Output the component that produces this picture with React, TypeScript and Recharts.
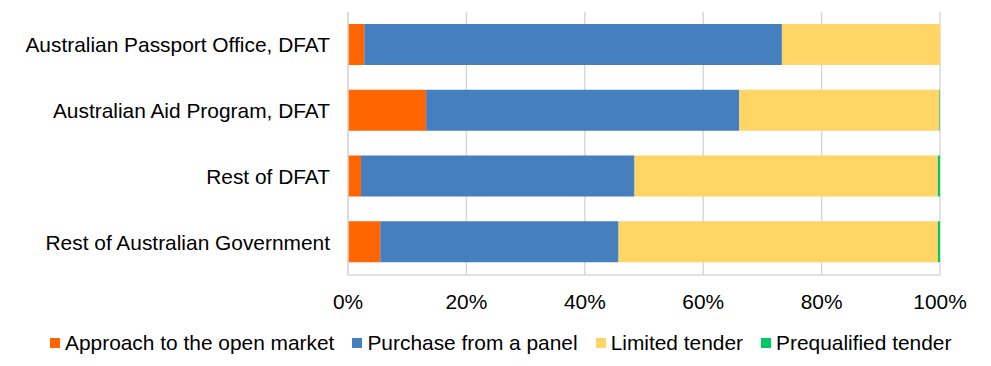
import { Bar, BarChart, CartesianGrid, Legend, XAxis, YAxis } from "recharts";

const categories = [
  "Australian Passport Office, DFAT",
  "Australian Aid Program, DFAT",
  "Rest of DFAT",
  "Rest of Australian Government",
];

const openMarket = [2.75, 13.2, 2.2, 5.45];
const panel = [70.55, 52.9, 46.2, 40.25];
const limited = [26.7, 33.8, 51.25, 53.95];
const prequalified = [0, 0.1, 0.35, 0.35];

const xTicks = [0, 20, 40, 60, 80, 100];

const series = [
  { key: "open", name: "Approach to the open market", color: "#FF6600" },
  { key: "panel", name: "Purchase from a panel", color: "#467FC0" },
  { key: "limited", name: "Limited tender", color: "#FFD566" },
  { key: "prequal", name: "Prequalified tender", color: "#00C864" },
];

const data = categories.map((name, i) => ({
  name,
  open: openMarket[i],
  panel: panel[i],
  limited: limited[i],
  prequal: prequalified[i],
}));

const font = "'Liberation Sans', Arial, sans-serif";
const fontSize = 20.9;

function LegendContent() {
  return (
    <div
      style={{
        display: "flex",
        justifyContent: "flex-start",
        alignItems: "center",
        paddingLeft: 50,
        height: 36,
        marginTop: -5,
        fontFamily: font,
        fontSize,
        color: "#000",
      }}
    >
      {series.map((s) => (
        <div key={s.key} style={{ display: "flex", alignItems: "center", marginRight: 18 }}>
          <span
            style={{
              display: "inline-block",
              width: 10,
              height: 10,
              background: s.color,
              marginRight: 5,
            }}
          />
          <span>{s.name}</span>
        </div>
      ))}
    </div>
  );
}

export default function App() {
  return (
    <div style={{ position: "absolute", left: 0, top: 0, width: 991, height: 366, background: "#fff" }}>
      <BarChart
        width={991}
        height={366}
        data={data}
        layout="vertical"
        margin={{ top: 12, right: 51, bottom: 0, left: 0 }}
        barSize={41}
      >
        <CartesianGrid horizontal={false} stroke="#D9D9D9" strokeWidth={1.5} />
        <XAxis
          type="number"
          domain={[0, 100]}
          ticks={xTicks}
          tickFormatter={(v) => `${v}%`}
          axisLine={{ stroke: "#D9D9D9", strokeWidth: 1.5 }}
          tickLine={false}
          tickMargin={13}
          height={55}
          tick={{ fill: "#000", fontSize, fontFamily: font }}
          interval={0}
        />
        <YAxis
          type="category"
          dataKey="name"
          width={348}
          axisLine={{ stroke: "#D9D9D9", strokeWidth: 1.5 }}
          tickLine={false}
          tickMargin={12}
          tick={{ fill: "#000", fontSize, fontFamily: font }}
          interval={0}
        />
        {series.map((s) => (
          <Bar
            key={s.key}
            dataKey={s.key}
            name={s.name}
            stackId="a"
            fill={s.color}
            isAnimationActive={false}
          />
        ))}
        <Legend verticalAlign="bottom" height={36} content={<LegendContent />} wrapperStyle={{ left: 0, width: 991 }} />
      </BarChart>
    </div>
  );
}
